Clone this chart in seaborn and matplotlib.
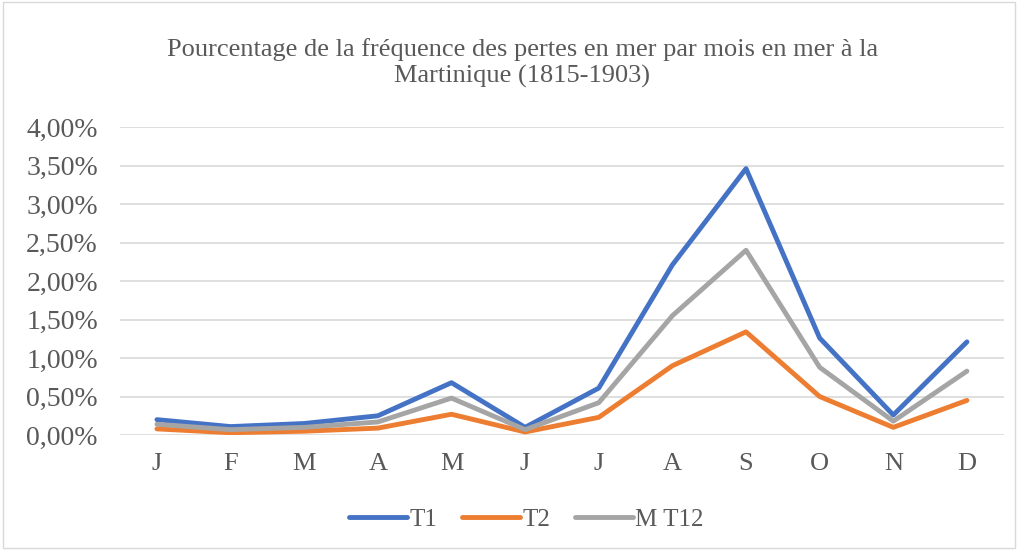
import pandas as pd
import matplotlib.pyplot as plt
import seaborn as sns
from matplotlib.ticker import FuncFormatter

mois = ['J', 'F', 'M', 'A', 'M', 'J', 'J', 'A', 'S', 'O', 'N', 'D']
t1 = [0.20, 0.11, 0.15, 0.25, 0.68, 0.10, 0.61, 2.21, 3.46, 1.26, 0.26, 1.21]
t2 = [0.08, 0.03, 0.05, 0.09, 0.27, 0.04, 0.23, 0.90, 1.34, 0.50, 0.10, 0.45]
mt12 = [0.14, 0.07, 0.10, 0.17, 0.48, 0.07, 0.42, 1.55, 2.40, 0.88, 0.18, 0.83]

df = pd.DataFrame({
    'x': list(range(12)) * 3,
    'val': t1 + t2 + mt12,
    'serie': ['T1'] * 12 + ['T2'] * 12 + ['M T12'] * 12,
})

sns.set_style('white')
plt.rcParams['font.family'] = ['Liberation Serif', 'DejaVu Serif']
grey = '#595959'

fig = plt.figure(figsize=(10.18, 5.5), dpi=100)
ax = fig.add_axes([0.118, 0.209, 0.868, 0.56])
sns.lineplot(data=df, x='x', y='val', hue='serie',
             palette={'T1': '#4472c4', 'T2': '#ed7d31', 'M T12': '#a5a5a5'},
             linewidth=3.5, ax=ax)

ax.set_xlim(-0.5, 11.5)
ax.set_ylim(0, 4.0)
ax.set_yticks([i * 0.5 for i in range(9)])
ax.yaxis.set_major_formatter(FuncFormatter(lambda v, p: f'{v:.2f}%'.replace('.', ',')))
ax.set_xticks(range(12))
ax.set_xticklabels(mois)
ax.tick_params(axis='y', labelsize=20, colors=grey, length=0, pad=16)
ax.tick_params(axis='x', labelsize=19, colors=grey, length=0, pad=13)
ax.grid(axis='y', color='#d9d9d9', linewidth=1.2)
ax.set_axisbelow(True)
for s in ax.spines.values():
    s.set_visible(False)
ax.set_xlabel('')
ax.set_ylabel('')

fig.text(0.513, 0.885, 'Pourcentage de la fréquence des pertes en mer par mois en mer à la\n'
         'Martinique (1815-1903)', ha='center', va='center',
         fontsize=19, color=grey, linespacing=1.25)

leg = ax.legend(loc='center', bbox_to_anchor=(0.46, -0.275), ncol=3,
                frameon=False, fontsize=18, handlelength=2.3,
                columnspacing=1.0, handletextpad=0.1)
for t in leg.get_texts():
    t.set_color(grey)

fig.patches.append(plt.Rectangle((0.003, 0.003), 0.994, 0.994, transform=fig.transFigure,
                                 fill=False, edgecolor='#d9d9d9', linewidth=1))

fig.savefig('out.png', dpi=100)
